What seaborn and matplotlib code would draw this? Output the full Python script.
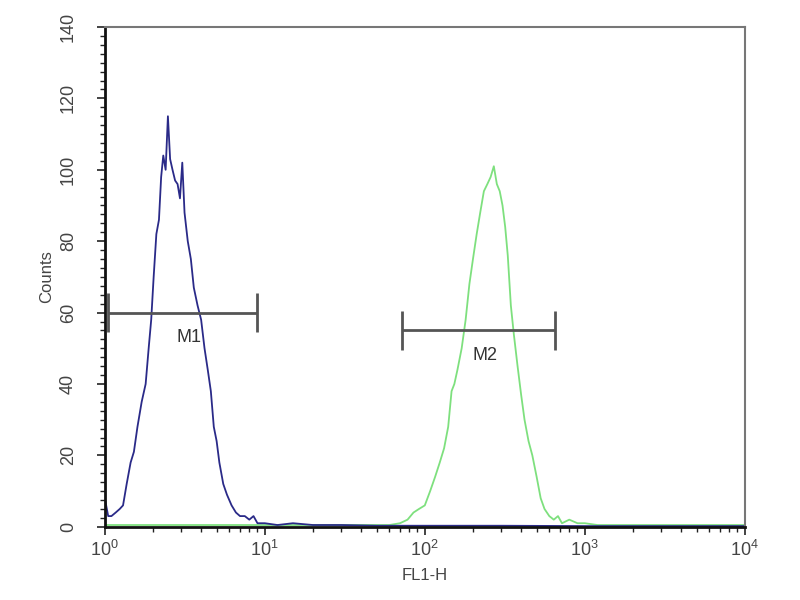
"""
Flow cytometry histogram (FL1-H) with two gates, M1 and M2.
"""

import numpy as np
import pandas as pd

import matplotlib

matplotlib.use("Agg")
import matplotlib.pyplot as plt
import seaborn as sns
from matplotlib.ticker import LogLocator, MultipleLocator, NullFormatter

# control (blue) histogram
blue_fl1 = [1.00, 1.05, 1.10, 1.17, 1.24, 1.30, 1.37, 1.45, 1.52, 1.60, 1.70,
            1.80, 1.88, 1.95, 2.02, 2.10, 2.18, 2.25, 2.32, 2.40, 2.48, 2.56,
            2.65, 2.75, 2.85, 2.95, 3.05, 3.15, 3.30, 3.45, 3.60, 3.80, 4.00,
            4.20, 4.40, 4.60, 4.80, 5.00, 5.20, 5.50, 5.80, 6.20, 6.60, 7.00,
            7.50, 8.00, 8.50, 9.00, 10.0, 12.0, 15.0, 20.0, 30.0, 50.0, 100.0,
            300.0, 1000.0, 3000.0, 10000.0]
blue_counts = [8, 3, 3, 4, 5, 6, 12, 18, 21, 28, 35,
               40, 50, 58, 70, 82, 86, 98, 104, 100, 115, 103,
               100, 97, 96, 92, 102, 88, 80, 75, 67, 62, 58,
               50, 44, 38, 28, 24, 18, 12, 9, 6, 4, 3,
               3, 2, 3, 1, 1, 0.5, 1, 0.5, 0.5, 0.3, 0.3,
               0.3, 0.2, 0.2, 0.2]

# stained sample (green) histogram
green_fl1 = [1.0, 3.0, 10.0, 30.0, 60.0, 70.0, 78.0, 85.0, 92.0, 100.0, 108.0,
             116.0, 124.0, 132.0, 140.0, 147.0, 153.0, 160.0, 170.0, 180.0,
             190.0, 200.0, 211.0, 222.0, 234.0, 246.0, 258.0, 270.0, 282.0,
             294.0, 306.0, 318.0, 330.0, 345.0, 360.0, 380.0, 400.0, 420.0,
             445.0, 470.0, 500.0, 530.0, 560.0, 600.0, 640.0, 680.0, 720.0,
             800.0, 900.0, 1000.0, 1200.0, 2000.0, 5000.0, 10000.0]
green_counts = [0.5, 0.5, 0.5, 0.5, 0.5, 1, 2, 4, 5, 6, 10,
                14, 18, 22, 28, 38, 40, 44, 50, 58,
                68, 75, 82, 88, 94, 96, 98, 101, 96,
                94, 90, 84, 76, 62, 54, 45, 37, 30,
                24, 20, 14, 8, 5, 3, 2, 3, 1,
                2, 1, 1, 0.5, 0.5, 0.5, 0.5]

# gates
gate_names = ["M1", "M2"]
gate_start = [1.04, 72.0]
gate_end = [9.0, 650.0]
gate_level = [60, 55]

BLUE = "#2a2a88"
GREEN = "#7ee07e"

sns.set_theme(style="white")
plt.rcParams["font.family"] = ["Liberation Sans", "DejaVu Sans"]
plt.rcParams["mathtext.fontset"] = "custom"
plt.rcParams["mathtext.rm"] = "Liberation Sans"

blue_df = pd.DataFrame({"FL1-H": blue_fl1, "Counts": blue_counts})
green_df = pd.DataFrame({"FL1-H": green_fl1, "Counts": green_counts})

fig = plt.figure(figsize=(8, 6), dpi=100)
ax = fig.add_axes([0.131, 0.122, 0.8, 0.833])

sns.lineplot(data=green_df, x="FL1-H", y="Counts", ax=ax, color=GREEN, lw=1.3)
sns.lineplot(data=blue_df, x="FL1-H", y="Counts", ax=ax, color=BLUE, lw=1.3)

ax.set_xscale("log")
ax.set_xlim(1, 10000)
ax.set_ylim(0, 140)

# gate markers
for name, x0, x1, lvl in zip(gate_names, gate_start, gate_end, gate_level):
    ax.hlines(lvl, x0, x1, color="#555555", lw=2)
    ax.vlines([x0, x1], lvl - 5.5, lvl + 5.5, color="#555555", lw=2)
    ax.text(np.sqrt(x0 * x1) * 1.1, lvl - 4.5, name, ha="center", va="top",
            fontsize=13, color="#333333")

ax.yaxis.set_major_locator(MultipleLocator(20))
ax.yaxis.set_minor_locator(MultipleLocator(2.5))
ax.xaxis.set_major_locator(LogLocator(base=10, numticks=10))
ax.xaxis.set_minor_locator(LogLocator(base=10, subs=np.arange(2, 10), numticks=20))
ax.xaxis.set_minor_formatter(NullFormatter())

ax.tick_params(axis="both", which="major", direction="out", length=6,
               width=1.2, colors="#222222", labelsize=13, labelcolor="#444444",
               bottom=True, left=True)
ax.tick_params(axis="y", which="major", pad=14)
ax.tick_params(axis="both", which="minor", direction="out", length=3.5,
               width=1.0, colors="#222222", bottom=True, left=True)
for lab in ax.get_yticklabels():
    lab.set_rotation(90)
    lab.set_va("center")

for side in ["left", "bottom"]:
    ax.spines[side].set_color("#111111")
    ax.spines[side].set_linewidth(2)
for side in ["top", "right"]:
    ax.spines[side].set_color("#777777")
    ax.spines[side].set_linewidth(1.5)

ax.set_xlabel("FL1-H", fontsize=12, color="#444444", labelpad=6)
ax.set_ylabel("Counts", fontsize=12, color="#444444", labelpad=4)

fig.savefig("out.png", dpi=100)
